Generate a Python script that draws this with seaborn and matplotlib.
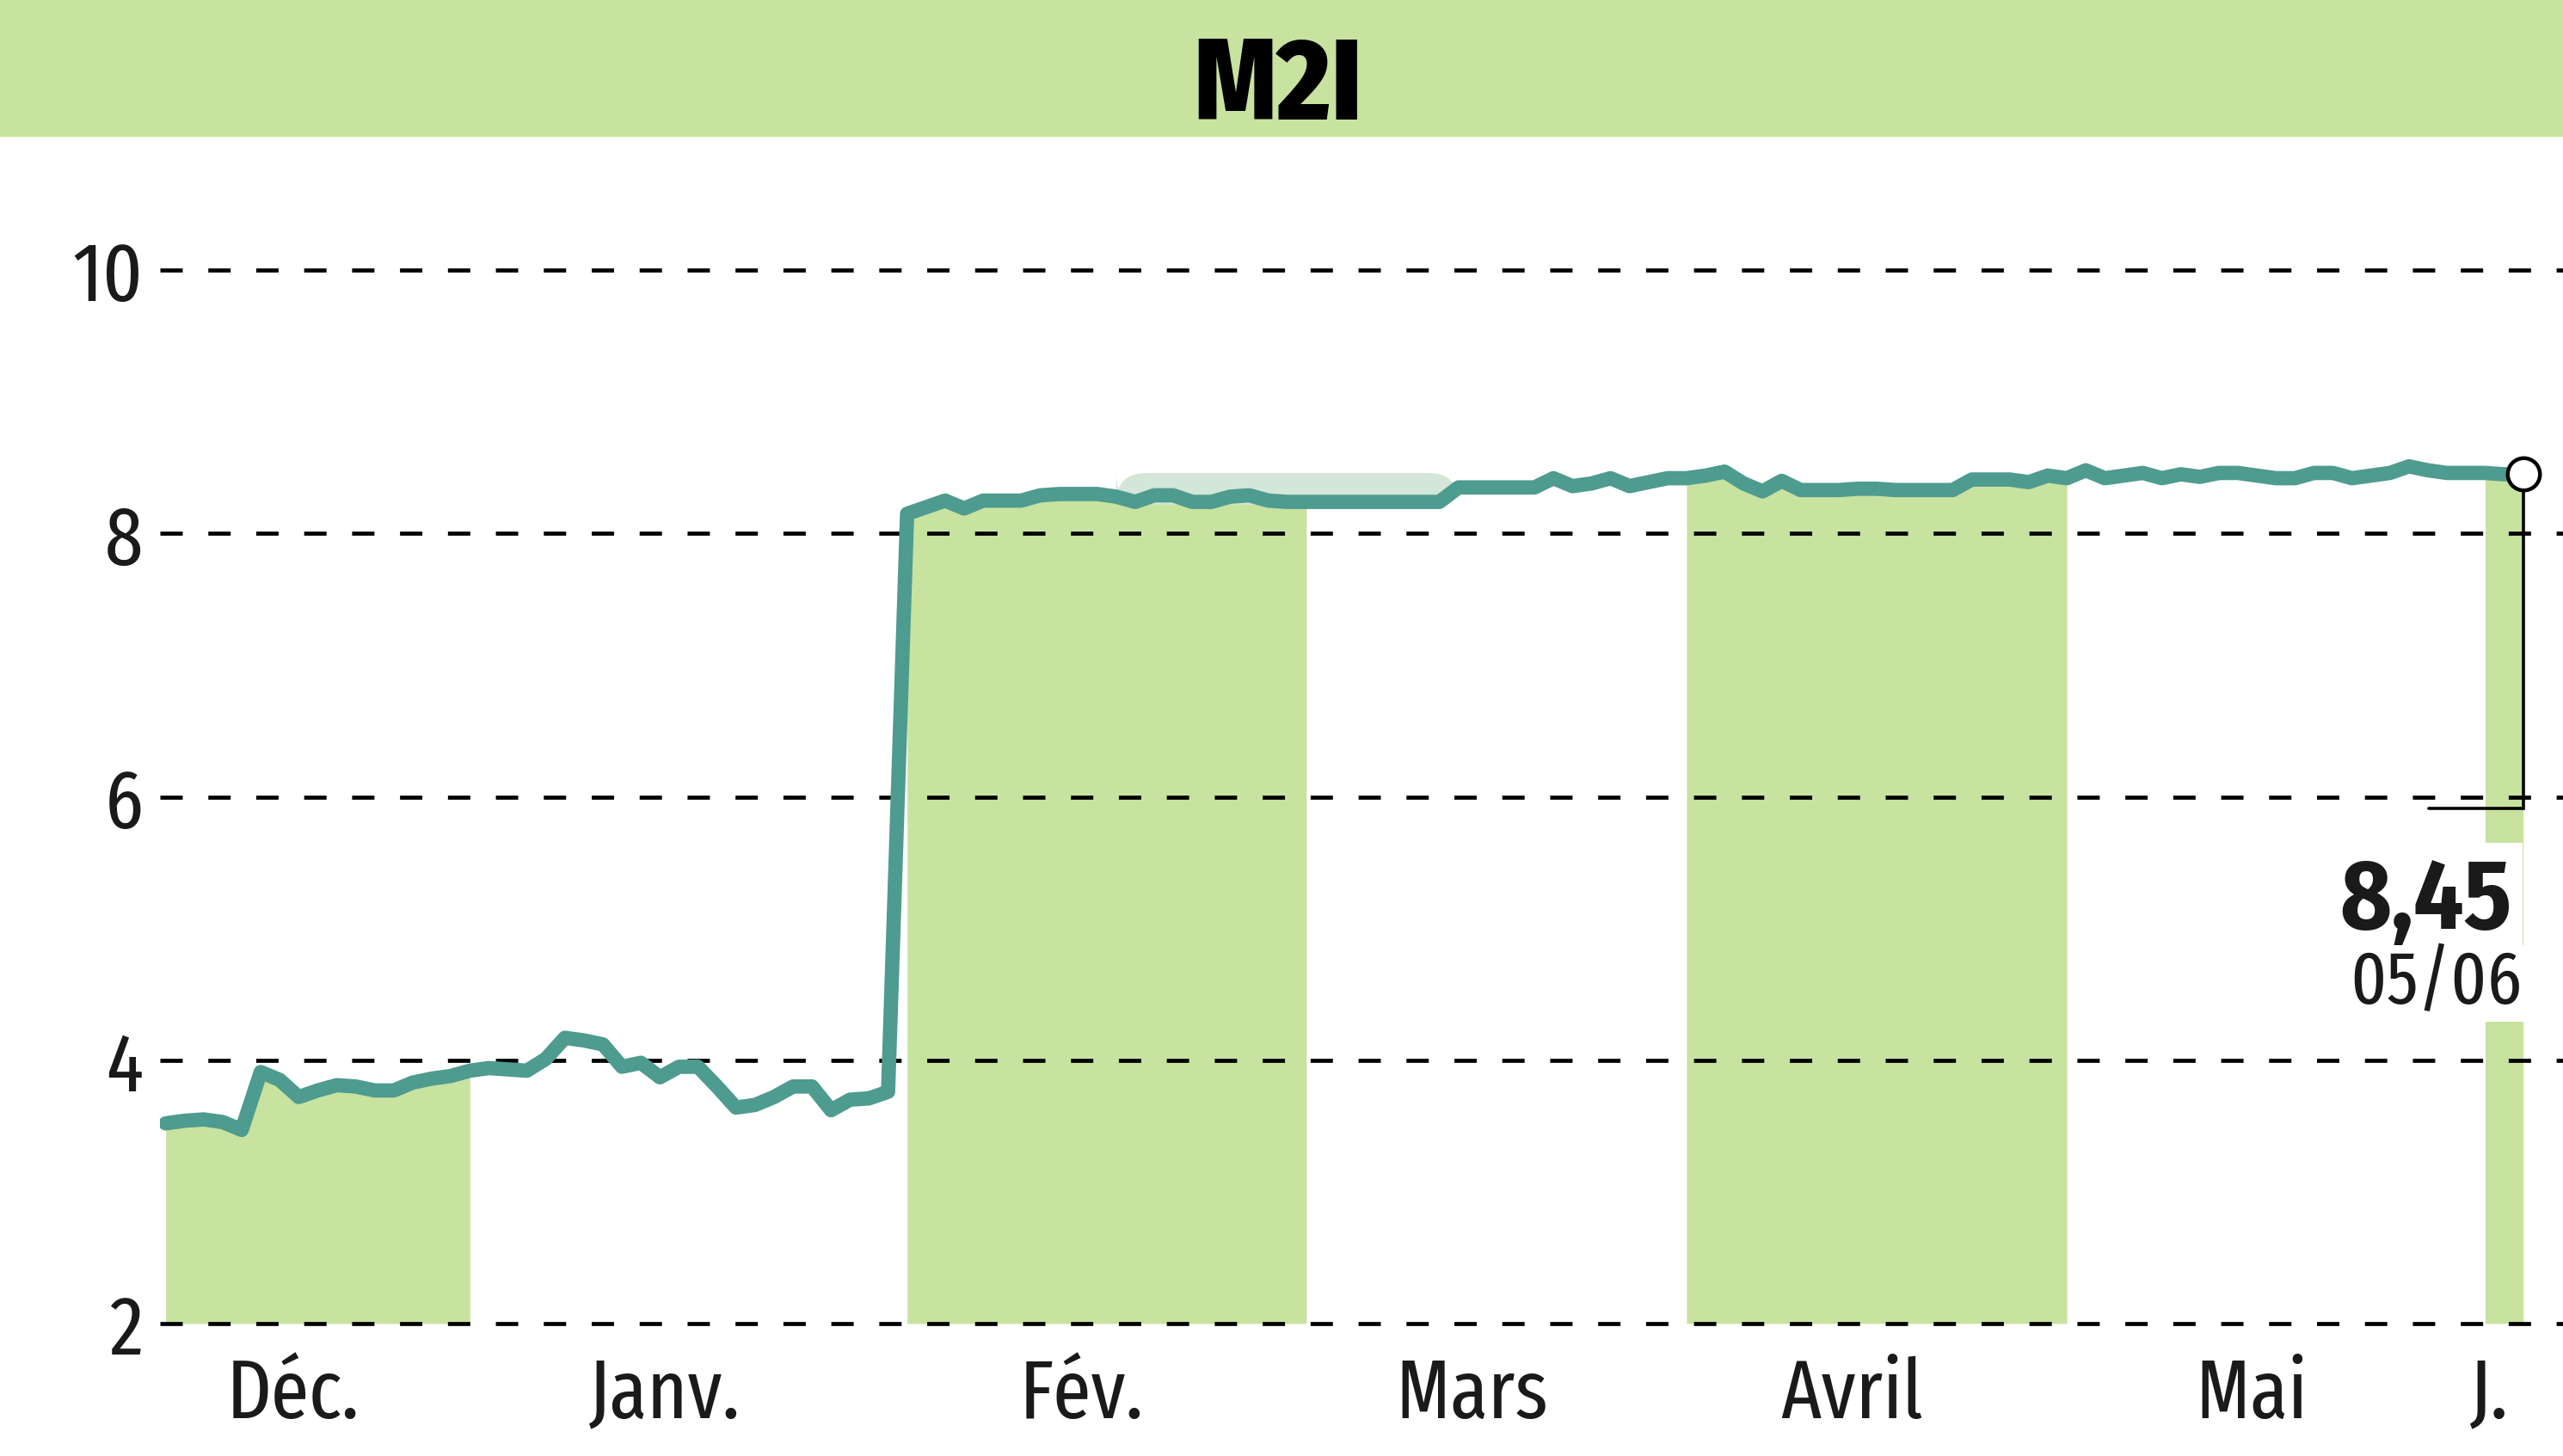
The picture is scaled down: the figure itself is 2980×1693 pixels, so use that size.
import matplotlib
matplotlib.use('Agg')
import matplotlib.pyplot as plt
from matplotlib.patches import FancyBboxPatch, Rectangle
import numpy as np
import pandas as pd
import seaborn as sns

# daily closes, month by month (last point = 05/06)
dec = [3.52, 3.54, 3.55, 3.53, 3.47, 3.91, 3.85, 3.72, 3.77, 3.81, 3.80, 3.77,
       3.77, 3.83, 3.86, 3.88]
jan = [3.92, 3.94, 3.93, 3.92, 4.01, 4.17, 4.15, 4.12, 3.95, 3.98, 3.87, 3.95,
       3.95, 3.80, 3.64, 3.66, 3.72, 3.80, 3.80, 3.62, 3.70, 3.71, 3.76]
feb = [8.15, 8.20, 8.25, 8.19, 8.25, 8.25, 8.25, 8.29, 8.30, 8.30, 8.30, 8.28,
       8.24, 8.29, 8.29, 8.24, 8.24, 8.28, 8.29, 8.25, 8.24]
mar = [8.24, 8.24, 8.24, 8.24, 8.24, 8.24, 8.24, 8.24, 8.35, 8.35, 8.35, 8.35,
       8.35, 8.42, 8.36, 8.38, 8.42, 8.36, 8.39, 8.42]
apr = [8.42, 8.44, 8.47, 8.38, 8.32, 8.40, 8.33, 8.33, 8.33, 8.34, 8.34, 8.33,
       8.33, 8.33, 8.33, 8.41, 8.41, 8.41, 8.39, 8.44]
may = [8.42, 8.48, 8.42, 8.44, 8.46, 8.42, 8.45, 8.43, 8.46, 8.46, 8.44, 8.42,
       8.42, 8.46, 8.46, 8.42, 8.44, 8.46, 8.51, 8.48, 8.46, 8.46]
jun = [8.46, 8.45, 8.45]

months = ['Déc.', 'Janv.', 'Fév.', 'Mars', 'Avril', 'Mai', 'J.']
yticks = [2, 4, 6, 8, 10]
last_value = '8,45'
last_date = '05/06'
title = 'M2I'

GREEN = '#c8e2a0'
LINE = '#4e9b8f'
INK = '#1a1a1a'
COND = ['Fira Sans Extra Condensed', 'DejaVu Sans']

sns.set_style('white')
plt.rcParams['font.family'] = COND

series = [dec, jan, feb, mar, apr, may, jun]
price = np.concatenate(series)
n = len(price)
df = pd.DataFrame({'idx': np.arange(n), 'price': price})
starts = np.cumsum([0] + [len(s) for s in series[:-1]])

fig = plt.figure(figsize=(29.8, 16.93), dpi=100)
ax = fig.add_axes([0.0624, 0.0910, 0.9376, 0.7909])

# title band
fig.patches.append(Rectangle((0, 0.9067), 1, 0.0933, transform=fig.transFigure,
                             color=GREEN, zorder=0))
fig.text(0.4985, 0.918, title, ha='center', va='baseline', fontsize=97,
         fontweight='heavy', family=['Fira Sans Condensed', 'DejaVu Sans'],
         color='black')

# alternate month bands under the curve
for k in range(0, len(series), 2):
    s = starts[k]
    e = min(s + len(series[k]), n - 1)
    ax.fill_between(df['idx'][s:e + 1], 2, df['price'][s:e + 1],
                    color=GREEN, lw=0, zorder=1)

# soft highlight above the February/March plateau
ax.add_patch(FancyBboxPatch((50, 8.22), 18, 0.24,
                            boxstyle='round,pad=0,rounding_size=1.6',
                            mutation_aspect=0.143, fc='#d3e6d7', ec='none',
                            zorder=1.5))

for v in yticks:
    ax.axhline(v, color='black', lw=3.4, dashes=(5.5, 6.3), zorder=2,
               clip_on=False)

sns.lineplot(data=df, x='idx', y='price', ax=ax, color=LINE, linewidth=12,
             zorder=4)

# last value callout
x_end = df['idx'].iloc[-1]
y_end = df['price'].iloc[-1]
ax.plot([x_end, x_end, 119.05], [y_end, 5.91, 5.91], color='black', lw=2.6,
        zorder=5, solid_joinstyle='miter')
ax.plot(x_end, y_end, 'o', ms=27, mfc='white', mec='black', mew=3.2, zorder=7,
        clip_on=False)
ax.text(123.4, 5.0, last_value, ha='right', va='baseline', fontsize=82,
        fontweight='bold', family=['Fira Sans Condensed', 'DejaVu Sans'],
        color=INK, zorder=6, bbox=dict(fc='white', ec='none', pad=9))
ax.text(123.95, 4.43, last_date, ha='right', va='baseline', fontsize=63,
        color=INK, zorder=6, bbox=dict(fc='white', ec='none', pad=2))

ax.set_xlim(-0.3, 126.1)
ax.set_ylim(2, 10.746)
ax.set_yticks(yticks)
ax.set_yticklabels([str(v) for v in yticks], fontsize=70, color=INK)
label_pos = [starts[k] + len(series[k]) / 2 - 1.3 for k in range(len(series))]
ax.set_xticks(label_pos)
ax.set_xticklabels(months, fontsize=70, color=INK)
ax.tick_params(axis='y', length=0, pad=14)
ax.tick_params(axis='x', length=0, pad=27)
ax.set_xlabel('')
ax.set_ylabel('')
sns.despine(ax=ax, left=True, bottom=True)

fig.savefig('out.png', dpi=100)
